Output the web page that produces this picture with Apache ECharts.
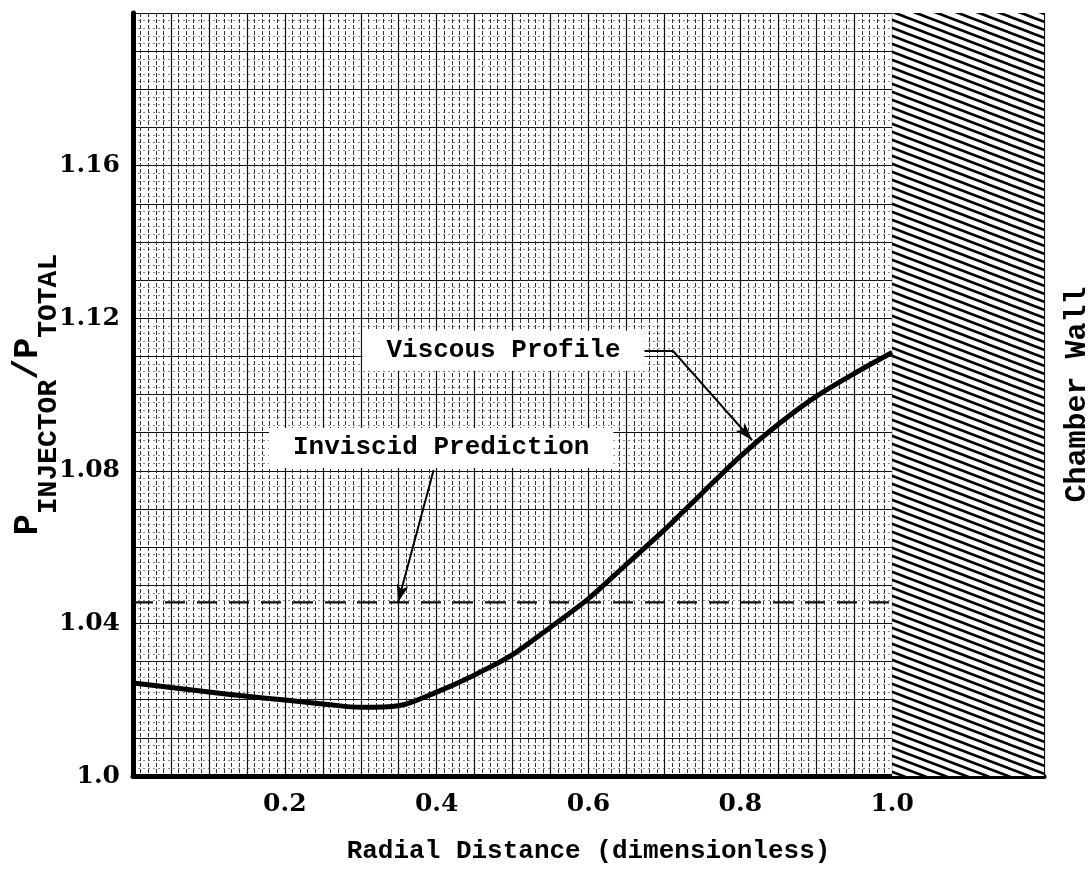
<!DOCTYPE html>
<html>
<head>
<meta charset="utf-8">
<title>Injector pressure ratio</title>
<script src="https://cdn.jsdelivr.net/npm/echarts@6/dist/echarts.min.js"></script>
<style>
  html, body { margin: 0; padding: 0; background: #fff; }
  #chart { width: 1090px; height: 870px; }
</style>
</head>
<body>
<div id="chart"></div>
<script>
// values
var radialDistance = [0, 0.05, 0.1, 0.15, 0.2, 0.25, 0.3, 0.35, 0.4, 0.45, 0.5,
  0.55, 0.6, 0.65, 0.7, 0.75, 0.8, 0.85, 0.9, 0.95, 1.0];
var viscousProfile = [1.0244, 1.0232, 1.022, 1.0209, 1.0199, 1.0189, 1.018, 1.0184,
  1.022, 1.0265, 1.0318, 1.039, 1.0465, 1.0555, 1.0645, 1.0742, 1.0838, 1.0922,
  1.0995, 1.1055, 1.111];
var inviscidX = [0, 1.0];
var inviscidValue = [1.0455, 1.0455];
var xTickLabels = ['0.2', '0.4', '0.6', '0.8', '1.0'];
var yTickLabels = ['1.0', '1.04', '1.08', '1.12', '1.16'];
var wallX = [1.0, 1.2];
var wallY = [1.0, 1.2];

// annotations
var noteText = ['Inviscid Prediction', 'Viscous Profile'];
var notePos = [[0.406, 1.086], [0.488, 1.1115]];
var inviscidArrow = [[0.396, 1.0802], [0.349, 1.0455]];
var viscousArrow = [[0.66, 1.1115], [0.711, 1.1115], [0.8155, 1.088]];

function pick(list, v) {
  for (var i = 0; i < list.length; i++) {
    if (Math.abs(parseFloat(list[i]) - v) < 1e-6) return list[i];
  }
  return '';
}

// diagonal hatch for the chamber wall
var hatch = document.createElement('canvas');
hatch.width = 21;
hatch.height = 8;
var g = hatch.getContext('2d');
g.fillStyle = '#fff';
g.fillRect(0, 0, 21, 8);
g.strokeStyle = '#000';
g.lineWidth = 2.6;
for (var k = -2; k <= 2; k++) {
  g.beginPath();
  g.moveTo(-21, -8 + k * 8);
  g.lineTo(42, 16 + k * 8);
  g.stroke();
}

var mono = '"Liberation Mono", "DejaVu Sans Mono", monospace';
var serif = '"DejaVu Serif", "Liberation Serif", serif';

var viscousData = radialDistance.map(function (x, i) { return [x, viscousProfile[i]]; });
var inviscidData = inviscidX.map(function (x, i) { return [x, inviscidValue[i]]; });
var noteData = noteText.map(function (t, i) { return { name: t, value: notePos[i] }; });

var chart = echarts.init(document.getElementById('chart'));
chart.setOption({
  backgroundColor: '#fff',
  animation: false,
  grid: {
    left: 133,
    right: 46,
    top: 13,
    bottom: 94,
    containLabel: false,
    outerBoundsMode: 'none'
  },
  xAxis: {
    type: 'value',
    min: 0,
    max: 1.2,
    interval: 0.05,
    name: 'Radial Distance (dimensionless)',
    nameLocation: 'middle',
    nameGap: 62,
    nameMoveOverlap: false,
    nameTextStyle: { fontFamily: mono, fontSize: 26, fontWeight: 'bold', color: '#000' },
    axisLine: { show: true, lineStyle: { color: '#000', width: 5 } },
    axisTick: { show: false },
    axisLabel: {
      interval: 0,
      margin: 16,
      fontFamily: serif,
      fontWeight: 'bold',
      fontSize: 25,
      color: '#000',
      formatter: function (v) { return pick(xTickLabels, v); }
    },
    splitLine: { show: true, lineStyle: { color: '#111', width: 1.2 } },
    minorTick: { show: false, splitNumber: 5 },
    minorSplitLine: { show: true, lineStyle: { color: '#333', width: 1, type: [4, 2] } }
  },
  yAxis: [
    {
      type: 'value',
      min: 1.0,
      max: 1.2,
      interval: 0.01,
      name: '{p|P}{s|INJECTOR}{p|/P}{s|TOTAL}',
      nameLocation: 'middle',
      nameRotate: 90,
      nameGap: 75,
      nameMoveOverlap: false,
      nameTextStyle: {
        color: '#000',
        rich: {
          p: { fontFamily: mono, fontSize: 35, fontWeight: 'bold', lineHeight: 50, padding: [0, 0, 9, 0], color: '#000' },
          s: { fontFamily: mono, fontSize: 28, fontWeight: 'bold', lineHeight: 28, padding: [31, 0, 0, 0], color: '#000' }
        }
      },
      axisLine: { show: true, lineStyle: { color: '#000', width: 5 } },
      axisTick: { show: false },
      axisLabel: {
        interval: 0,
        margin: 13,
        fontFamily: serif,
        fontWeight: 'bold',
        fontSize: 25,
        color: '#000',
        formatter: function (v) { return pick(yTickLabels, v); }
      },
      splitLine: { show: true, lineStyle: { color: '#111', width: 1.2 } },
      minorTick: { show: false, splitNumber: 5 },
      minorSplitLine: { show: true, lineStyle: { color: '#888', width: 1, type: [2, 3] } }
    },
    {
      type: 'value',
      position: 'right',
      min: 1.0,
      max: 1.2,
      name: 'Chamber Wall',
      nameLocation: 'middle',
      nameRotate: 90,
      nameGap: 18,
      nameMoveOverlap: false,
      nameTextStyle: { fontFamily: mono, fontSize: 30, fontWeight: 'bold', color: '#000' },
      axisLine: { show: false },
      axisTick: { show: false },
      axisLabel: { show: false },
      splitLine: { show: false }
    }
  ],
  series: [
    {
      name: 'Chamber Wall',
      type: 'line',
      data: [],
      clip: false,
      markArea: {
        silent: true,
        itemStyle: { color: { image: hatch, repeat: 'repeat' }, opacity: 1 },
        data: [[{ coord: [wallX[0], wallY[0] - 0.0008] }, { coord: [wallX[1], wallY[1]] }]]
      }
    },
    {
      name: 'Inviscid Prediction',
      type: 'line',
      data: inviscidData,
      symbol: 'none',
      lineStyle: { color: '#111', width: 2.2, type: [20, 12] },
      z: 3
    },
    {
      name: 'Viscous Profile',
      type: 'line',
      data: viscousData,
      smooth: 0.3,
      symbol: 'none',
      lineStyle: { color: '#000', width: 5 },
      z: 4
    },
    {
      name: 'notes',
      type: 'scatter',
      data: noteData,
      symbolSize: 0,
      z: 6,
      itemStyle: { opacity: 1 },
      label: {
        show: true,
        position: 'inside',
        formatter: '{b}',
        fontFamily: mono,
        fontSize: 26,
        fontWeight: 'bold',
        color: '#000',
        opacity: 1,
        backgroundColor: '#fff',
        padding: [7, 24]
      },
      markLine: {
        silent: true,
        symbol: ['none', 'none'],
        symbolSize: [9, 18],
        label: { show: false },
        lineStyle: { color: '#000', width: 2, type: 'solid', opacity: 1 },
        data: [
          [{ coord: inviscidArrow[0] }, { coord: inviscidArrow[1], symbol: 'arrow' }],
          [{ coord: viscousArrow[0] }, { coord: viscousArrow[1] }],
          [{ coord: viscousArrow[1] }, { coord: viscousArrow[2], symbol: 'arrow' }]
        ]
      }
    }
  ]
});
</script>
</body>
</html>
